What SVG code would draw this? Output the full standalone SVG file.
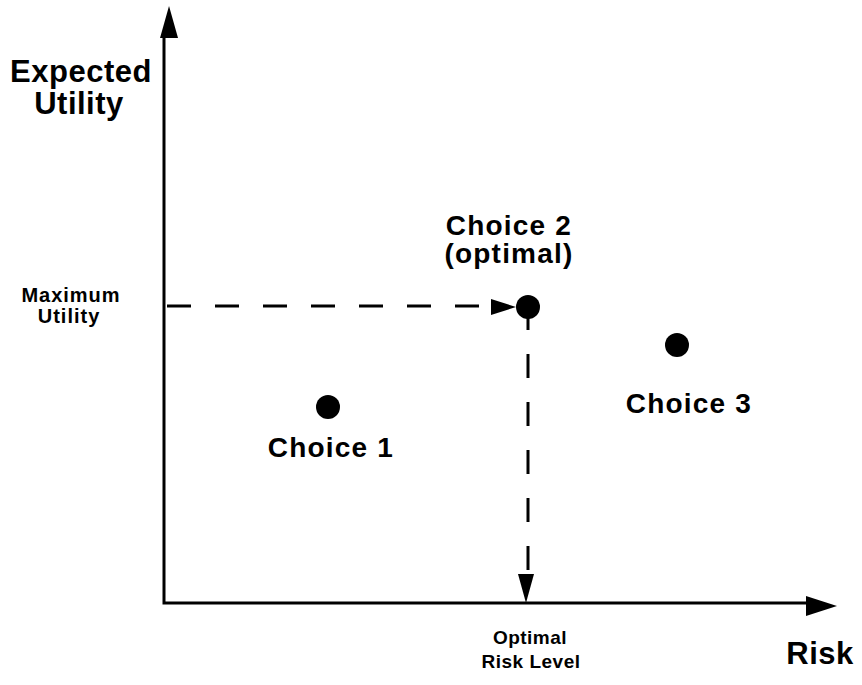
<svg xmlns="http://www.w3.org/2000/svg" width="862" height="685" viewBox="0 0 862 685">
  <style>
    .axis { stroke: #000; stroke-width: 3; fill: none; }
    .guide { stroke: #000; stroke-width: 3; fill: none; stroke-dasharray: 24 24; }
    .head { fill: #000; }
    .dot { fill: #000; }
    .lbl { font-family: "Liberation Sans", Arial, sans-serif; font-weight: bold; fill: #000; text-anchor: middle; }
    .big { font-size: 28px; letter-spacing: 1.2px; }
    .axt { font-size: 31px; letter-spacing: 0.5px; }
    .small { font-size: 19px; letter-spacing: 0.5px; }
    .side { font-size: 20px; letter-spacing: 1px; }
  </style>
  <rect width="862" height="685" fill="#fff"/>

  <g id="connectors">
    <!-- axes -->
    <path class="axis" d="M164,38 V603 H806"/>
    <polygon class="head" points="169,6 160,38 178,38"/>
    <polygon class="head" points="837,606 806,596 806,616"/>
    <!-- guide from maximum utility to choice 2 -->
    <path class="guide" d="M167,306 H491"/>
    <polygon class="head" points="516,307 491,299 491,315"/>
    <!-- guide from choice 2 down to the risk axis -->
    <path class="guide" d="M528,306 V574"/>
    <polygon class="head" points="526,603 518,574 534,574"/>
  </g>

  <g id="y-axis-label">
    <text class="lbl axt" x="81" y="82">Expected</text>
    <text class="lbl axt" x="79" y="114">Utility</text>
  </g>
  <g id="x-axis-label">
    <text class="lbl axt" x="820" y="664">Risk</text>
  </g>
  <g id="max-utility-label">
    <text class="lbl side" x="71" y="302">Maximum</text>
    <text class="lbl side" x="69" y="323">Utility</text>
  </g>
  <g id="optimal-risk-label">
    <text class="lbl small" x="530" y="644">Optimal</text>
    <text class="lbl small" x="531" y="668">Risk Level</text>
  </g>

  <g id="choice-1">
    <circle class="dot" cx="328" cy="407" r="12"/>
    <text class="lbl big" x="331" y="457">Choice 1</text>
  </g>
  <g id="choice-2">
    <circle class="dot" cx="528" cy="307" r="12"/>
    <text class="lbl big" x="509" y="235">Choice 2</text>
    <text class="lbl big" x="509" y="263">(optimal)</text>
  </g>
  <g id="choice-3">
    <circle class="dot" cx="677" cy="345" r="12"/>
    <text class="lbl big" x="689" y="413">Choice 3</text>
  </g>
</svg>
